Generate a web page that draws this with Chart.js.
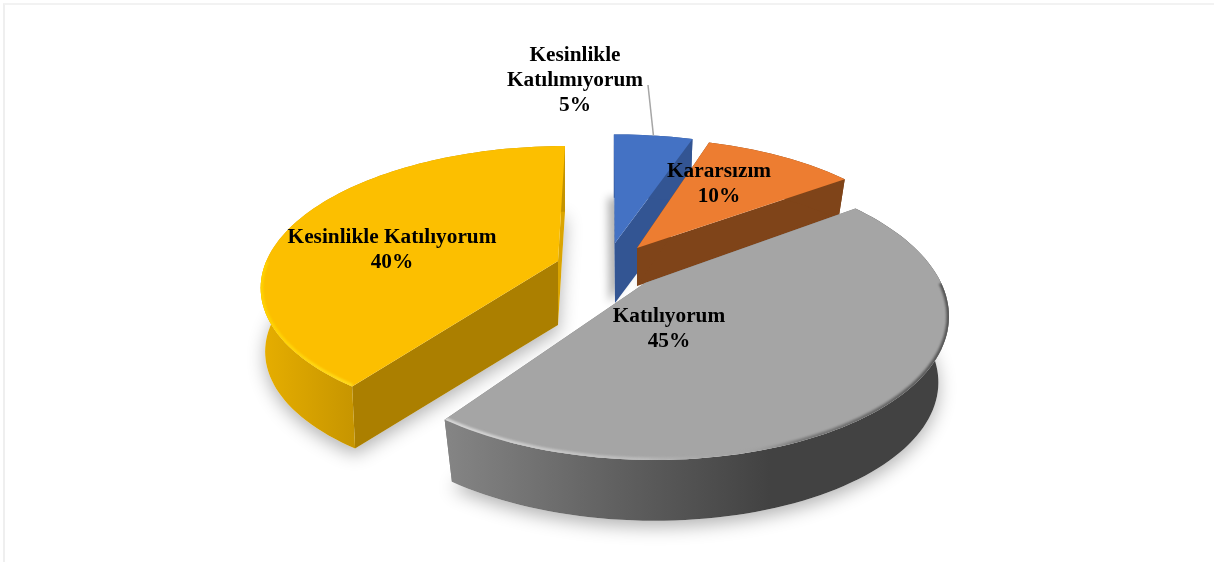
<!DOCTYPE html>
<html>
<head>
<meta charset="utf-8">
<style>
  html, body { margin: 0; padding: 0; background: #fff; }
  #wrap { position: relative; width: 1214px; height: 562px; overflow: hidden; }
  #frame { position: absolute; left: 3px; top: 3px; right: 0; bottom: 0; border-left: 2px solid #efefef; border-top: 2px solid #f2f2f2; }
  canvas { position: absolute; left: 0; top: 0; }
</style>
<script src="https://cdn.jsdelivr.net/npm/chart.js@4"></script>
</head>
<body>
<div id="wrap">
  <div id="frame"></div>
  <canvas id="pie3d" width="1214" height="562"></canvas>
</div>
<script>
const categories = ["Kesinlikle Katılımıyorum", "Kararsızım", "Katılıyorum", "Kesinlikle Katılıyorum"];
const values = [5, 10, 45, 40];
const labelLines = [["Kesinlikle", "Katılımıyorum"], ["Kararsızım"], ["Katılıyorum"], ["Kesinlikle Katılıyorum"]];

// look of the slices, same order as categories
const topColors = ["#4472c4", "#ed7d31", "#a5a5a5", "#fcbf00"];
const faceColors = ["#335593", "#7f4419", "#7c7c7c", "#ab7f00"];
const explode = [[8, -38], [30, -33], [38, 2], [-49, -20]];
const depths = [60, 38, 67, 64];
const radiusScale = [0.98, 0.95, 0.985, 0.97];
const tilts = [0.43, 0.45, 0.478, 0.46];
const persp = [0.167, 0.167, 0.2, 0.167];
const baseScale = [0.97, 0.97, 0.965, 0.985];
const labelPos = [[575, 55], [719, 171], [669, 316], [392, 237]];
const drawOrder = [3, 0, 1, 2];

const WIDEN = 1.07;

function slicePoint(arc, i, theta, level) {
  const c = Math.cos(theta);
  const f = 1 / (1 + persp[i] * c);
  const k = arc.outerRadius * WIDEN * radiusScale[i] * f;
  const b = level ? baseScale[i] : 1;
  return [
    arc.x + explode[i][0] * f + Math.sin(theta) * k * b,
    arc.y + explode[i][1] - c * k * tilts[i] * b + (level ? depths[i] : 0)
  ];
}

function apexPoint(arc, i, level) {
  return [arc.x + explode[i][0], arc.y + explode[i][1] + (level ? depths[i] : 0)];
}

function rimPoints(arc, i, from, to, level) {
  const pts = [];
  const n = Math.max(2, Math.ceil(Math.abs(to - from) / 0.03));
  for (let s = 0; s <= n; s++) pts.push(slicePoint(arc, i, from + (to - from) * s / n, level));
  return pts;
}

function tracePoly(ctx, pts) {
  ctx.beginPath();
  pts.forEach((p, n) => n ? ctx.lineTo(p[0], p[1]) : ctx.moveTo(p[0], p[1]));
  ctx.closePath();
}

function traceLine(ctx, pts) {
  ctx.beginPath();
  pts.forEach((p, n) => n ? ctx.lineTo(p[0], p[1]) : ctx.moveTo(p[0], p[1]));
}

function drawShadow(ctx, arc, i, a, b) {
  const big = i === 2 || i === 3;
  ctx.save();
  ctx.shadowColor = "rgba(0,0,0,0.3)";
  ctx.shadowBlur = big ? 18 : 8;
  ctx.shadowOffsetY = big ? 6 : 0;
  ctx.shadowOffsetX = i === 0 ? -6 : 0;
  ctx.fillStyle = "#fff";
  tracePoly(ctx, [apexPoint(arc, i, 1)].concat(rimPoints(arc, i, a, b, 1)));
  ctx.fill();
  ctx.restore();
}

function rimGradient(ctx, i) {
  if (i === 2) {
    const g = ctx.createLinearGradient(445, 0, 770, 0);
    g.addColorStop(0, "#858585");
    g.addColorStop(0.5, "#626262");
    g.addColorStop(1, "#424242");
    return g;
  }
  if (i === 3) {
    const g = ctx.createLinearGradient(262, 0, 362, 0);
    g.addColorStop(0, "#e6ae00");
    g.addColorStop(1, "#c49300");
    return g;
  }
  return faceColors[i];
}

function drawSlice(ctx, arc, i, a, b) {
  // cut faces first, then the rim, the top surface covers what is hidden
  ctx.fillStyle = i === 3 ? "#dba500" : faceColors[i];
  tracePoly(ctx, [apexPoint(arc, i, 0), slicePoint(arc, i, b, 0), slicePoint(arc, i, b, 1), apexPoint(arc, i, 1)]);
  ctx.fill();
  ctx.fillStyle = faceColors[i];
  tracePoly(ctx, [apexPoint(arc, i, 0), slicePoint(arc, i, a, 0), slicePoint(arc, i, a, 1), apexPoint(arc, i, 1)]);
  ctx.fill();

  ctx.fillStyle = rimGradient(ctx, i);
  tracePoly(ctx, rimPoints(arc, i, a, b, 0).concat(rimPoints(arc, i, a, b, 1).reverse()));
  ctx.fill();

  ctx.fillStyle = topColors[i];
  tracePoly(ctx, [apexPoint(arc, i, 0)].concat(rimPoints(arc, i, a, b, 0)));
  ctx.fill();

  // rounded edge along the front of the rim, drawn just inside the top surface
  if (i === 2 || i === 3) {
    const from = Math.max(a, Math.PI * 0.5), to = Math.min(b, Math.PI * 1.5);
    const g = ctx.createLinearGradient(i === 2 ? 445 : 260, 0, i === 2 ? 948 : 360, 0);
    if (i === 2) {
      g.addColorStop(0, "rgba(225,225,225,0.85)");
      g.addColorStop(0.4, "rgba(195,195,195,0.7)");
      g.addColorStop(0.58, "rgba(165,165,165,0)");
      g.addColorStop(0.7, "rgba(90,90,90,0.6)");
      g.addColorStop(1, "rgba(70,70,70,0.85)");
    } else {
      g.addColorStop(0, "#ffd200");
      g.addColorStop(1, "#ffdc1e");
    }
    ctx.save();
    ctx.beginPath();
    tracePoly(ctx, [apexPoint(arc, i, 0)].concat(rimPoints(arc, i, a, b, 0)));
    ctx.clip();
    ctx.strokeStyle = g;
    ctx.lineWidth = 5;
    ctx.filter = "blur(1.2px)";
    traceLine(ctx, rimPoints(arc, i, from, to, 0));
    ctx.stroke();
    ctx.restore();
  }
}

const pie3d = {
  id: "pie3d",
  beforeDatasetsDraw(chart) {
    const ctx = chart.ctx;
    const arcs = chart.getDatasetMeta(0).data;
    const range = i => [arcs[i].startAngle + Math.PI / 2, arcs[i].endAngle + Math.PI / 2];

    drawOrder.forEach(i => drawShadow(ctx, arcs[i], i, range(i)[0], range(i)[1]));
    drawOrder.forEach(i => drawSlice(ctx, arcs[i], i, range(i)[0], range(i)[1]));

    // leader line of the small slice
    const mid = (range(0)[0] + range(0)[1]) / 2;
    const end = slicePoint(arcs[0], 0, mid, 0);
    ctx.strokeStyle = "#a6a6a6";
    ctx.lineWidth = 1.5;
    ctx.beginPath();
    ctx.moveTo(648, 85);
    ctx.lineTo(end[0], end[1]);
    ctx.stroke();

    // data labels
    ctx.fillStyle = "#000";
    ctx.font = "bold 21.3px 'Liberation Serif'";
    ctx.textAlign = "center";
    ctx.textBaseline = "middle";
    categories.forEach((c, i) => {
      const lines = labelLines[i].concat(values[i] + "%");
      lines.forEach((t, n) => ctx.fillText(t, labelPos[i][0], labelPos[i][1] + n * 25));
    });
    return false;
  }
};

new Chart(document.getElementById("pie3d"), {
  type: "pie",
  data: {
    labels: categories,
    datasets: [{ data: values, backgroundColor: topColors, borderWidth: 0 }]
  },
  options: {
    responsive: false,
    animation: false,
    plugins: { legend: { display: false }, tooltip: { enabled: false } }
  },
  plugins: [pie3d]
});
</script>
</body>
</html>
